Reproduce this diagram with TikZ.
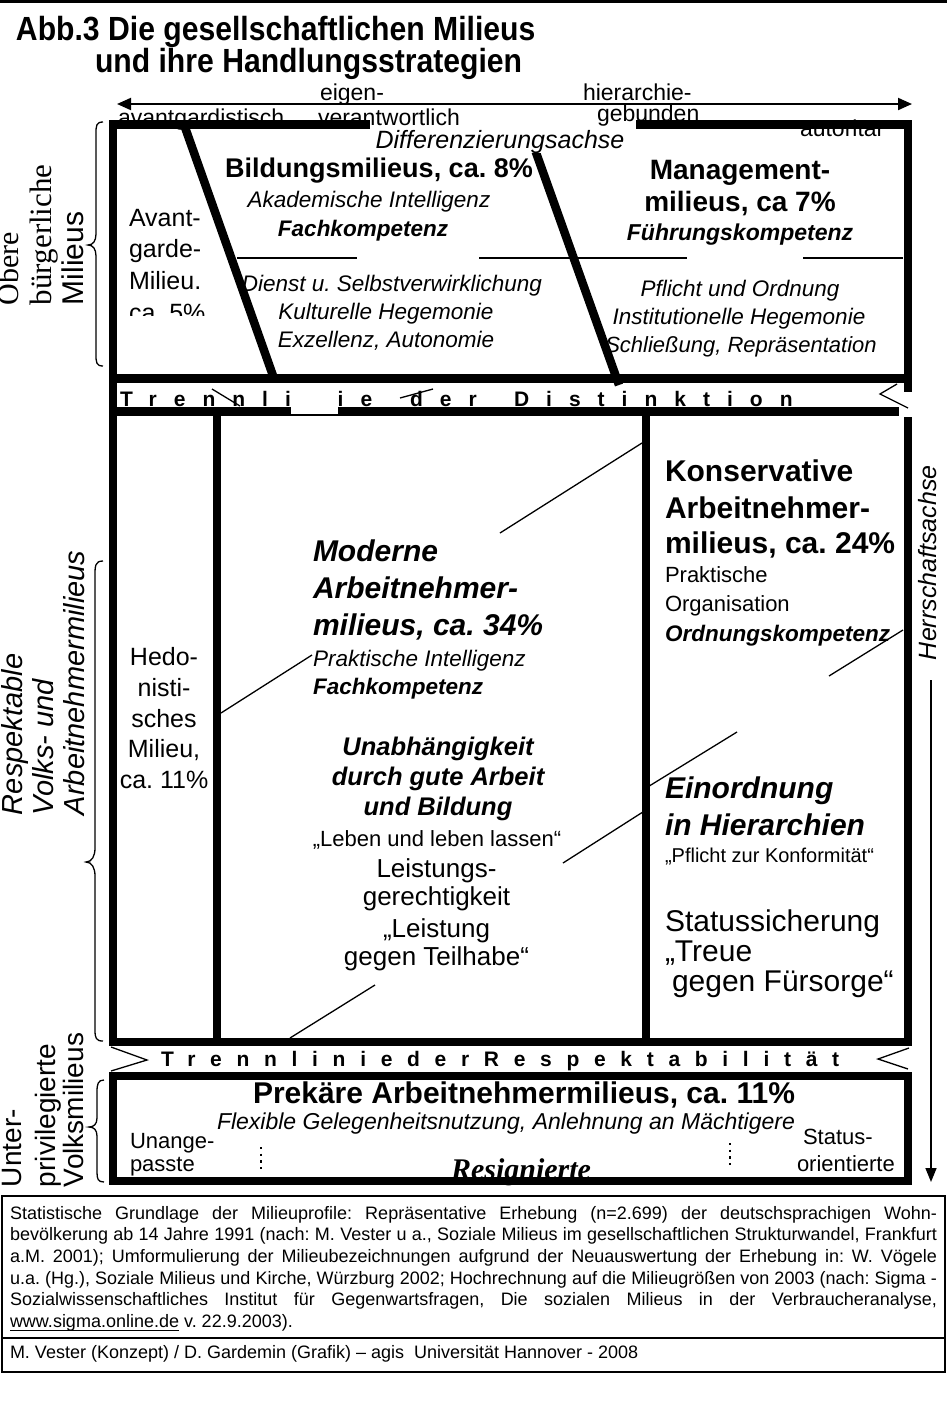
\documentclass[tikz,border=0pt]{standalone}
\usepackage{fontspec}
\setmainfont{Liberation Sans}
\newfontfamily\timesf{Liberation Serif}
\newfontfamily\narrowf[FakeStretch=0.9]{Liberation Sans}
\usetikzlibrary{arrows.meta}
\newcommand\fsz[1]{\fontsize{#1}{#1}\selectfont}
\begin{document}
\frenchspacing
\begin{tikzpicture}[x=1pt,y=-1pt,
  bar/.style={line width=8.5pt, line join=miter},
  thinl/.style={line width=1.3pt},
  brc/.style={line width=1.3pt},
  txc/.style={inner sep=0pt, outer sep=0pt, anchor=base},
  txw/.style={inner sep=0pt, outer sep=0pt, anchor=base west},
  rtw/.style={inner sep=0pt, outer sep=0pt, anchor=base west, rotate=90},
  axl/.style={txw, font=\fsz{23}},
  itx/.style={font=\fsz{22.5}\itshape},
  bix/.style={font=\fsz{22.5}\bfseries\itshape},
  bigb/.style={font=\fsz{30}\bfseries},
  bigbi/.style={font=\fsz{30}\bfseries\itshape},
  arr/.style={-{Triangle[length=14pt,width=11pt]}},
]
\useasboundingbox (0,0) rectangle (947,1417);
\fill[white] (0,0) rectangle (947,1417);

% ---------- header ----------
\draw[line width=3pt] (0,1.5) -- (947,1.5);
\node[txw, font=\fsz{33.5}\narrowf\bfseries] (t1) at (16,40) {Abb.3 Die gesellschaftlichen Milieus};
\node[txw, font=\fsz{33.5}\narrowf\bfseries] (t2) at (95,72) {und ihre Handlungsstrategien};

\coordinate (axL) at (117,104);
\coordinate (axR) at (912,104);
\draw[line width=2pt, {Triangle[length=14pt,width=12pt]}-{Triangle[length=14pt,width=12pt]}] (axL) -- (axR);

% ---------- texts of upper box ----------
\begin{scope}
\clip (120,130) rectangle (215,315);
\node[txw, font=\fsz{25}] (av1) at (129,226) {Avant-};
\node[txw, font=\fsz{25}] (av2) at (129,257.5) {garde-};
\node[txw, font=\fsz{25}] (av3) at (129,289.5) {Milieu.};
\node[txw, font=\fsz{25}] (av4) at (129,321) {ca. 5\%};
\end{scope}
\node[txc, font=\fsz{27}\bfseries] (bm1) at (379,177.5) {Bildungsmilieus, ca. 8\%};
\node[txc, itx] (bm2) at (369,207) {Akademische Intelligenz};
\node[txc, bix] (bm3) at (363,236) {Fachkompetenz};
\node[txc, itx] (bm4) at (392,291) {Dienst u. Selbstverwirklichung};
\node[txc, itx] (bm5) at (386,319) {Kulturelle Hegemonie};
\node[txc, itx] (bm6) at (386,347) {Exzellenz, Autonomie};
\node[txc, font=\fsz{28}\bfseries] (mm1) at (740,179.5) {Management-};
\node[txc, font=\fsz{28}\bfseries] (mm2) at (740,211) {milieus, ca 7\%};
\node[txc, font=\fsz{23}\bfseries\itshape] (mm3) at (740,240.5) {Führungskompetenz};
\node[txc, itx] (mm4) at (740,296) {Pflicht und Ordnung};
\node[txc, itx] (mm5) at (739,324) {Institutionelle Hegemonie};
\node[txc, font=\fsz{22}\itshape] (mm6) at (741,352) {Schließung, Repräsentation};

% thin lines in upper box
\draw[thinl] (237,258) -- (357,258);
\draw[thinl] (479,258) -- (687,258);
\draw[thinl] (803,258) -- (903,258);

% ---------- texts of middle box ----------
\node[txc, font=\fsz{25}] (he1) at (164,665) {Hedo-};
\node[txc, font=\fsz{25}] (he2) at (164,696) {nisti-};
\node[txc, font=\fsz{25}] (he3) at (164,727) {sches};
\node[txc, font=\fsz{25}] (he4) at (164,757) {Milieu,};
\node[txc, font=\fsz{25}] (he5) at (164,788) {ca. 11\%};

\node[txw, bigbi] (mo1) at (313,561.5) {Moderne};
\node[txw, bigbi] (mo2) at (313,598) {Arbeitnehmer-};
\node[txw, bigbi] (mo3) at (313,635) {milieus, ca. 34\%};
\node[txw, itx] (mo4) at (313,666) {Praktische Intelligenz};
\node[txw, bix] (mo5) at (313,694) {Fachkompetenz};

\node[txc, font=\fsz{25.5}\bfseries\itshape] (un1) at (438,755) {Unabhängigkeit};
\node[txc, font=\fsz{25.5}\bfseries\itshape] (un2) at (438,785) {durch gute Arbeit};
\node[txc, font=\fsz{25.5}\bfseries\itshape] (un3) at (438,815) {und Bildung};
\node[txc, font=\fsz{22}] (un4) at (437,846) {„Leben und leben lassen“};
\node[txc, font=\fsz{26}] (le1) at (436.5,877) {Leistungs-};
\node[txc, font=\fsz{26}] (le2) at (436.5,905.5) {gerechtigkeit};
\node[txc, font=\fsz{26}] (le3) at (436.5,937) {„Leistung};
\node[txc, font=\fsz{26}] (le4) at (436.5,965.5) {gegen Teilhabe“};

\node[txw, bigb] (ko1) at (665,481.5) {Konservative};
\node[txw, bigb] (ko2) at (665,518) {Arbeitnehmer-};
\node[txw, bigb] (ko3) at (665,553) {milieus, ca. 24\%};
\node[txw, font=\fsz{22}] (ko4) at (665,582.5) {Praktische};
\node[txw, font=\fsz{22}] (ko5) at (665,611) {Organisation};
\node[txw, bix] (ko6) at (665,641) {Ordnungskompetenz};

\node[txw, bigbi] (ei1) at (665,798) {Einordnung};
\node[txw, bigbi] (ei2) at (665,835) {in Hierarchien};
\node[txw, font=\fsz{20}] (ei3) at (665,862.5) {„Pflicht zur Konformität“};
\node[txw, font=\fsz{30}] (st1) at (665,931.5) {Statussicherung};
\node[txw, font=\fsz{30}] (st2) at (665,961.5) {„Treue};
\node[txw, font=\fsz{30}] (st3) at (672,991.5) {gegen Fürsorge“};

% diagonal thin lines
\draw[thinl] (221,713) -- (312,655);
\draw[thinl] (500,533) -- (642,443);
\draw[thinl] (290,1038) -- (375,985);
\draw[thinl] (563,863) -- (646,810);
\draw[thinl] (646,788) -- (737,732);
\draw[thinl] (829,676) -- (903,630);

% ---------- texts of lower box ----------
\node[txc, font=\fsz{30}\bfseries] (pr1) at (524,1103) {Prekäre Arbeitnehmermilieus, ca. 11\%};
\node[txc, font=\fsz{23}\itshape] (pr2) at (506,1129) {Flexible Gelegenheitsnutzung, Anlehnung an Mächtigere};
\node[txw, font=\fsz{22}] (pr3) at (130,1148) {Unange-};
\node[txw, font=\fsz{22}] (pr4) at (130,1171) {passte};
\node[txw, font=\fsz{22}] (pr5) at (803,1144) {Status-};
\node[txw, font=\fsz{22}] (pr6) at (797,1171) {orientierte};
\node[txc, font=\fsz{30}\timesf\bfseries\itshape] (pr7) at (521,1179) {Resignierte};
\draw[line width=2.2pt, dash pattern=on 2.2pt off 4.5pt] (261,1147) -- (261,1170);
\draw[line width=2.2pt, dash pattern=on 2.2pt off 4.5pt] (730,1143) -- (730,1166);

% ---------- thick frames ----------
\draw[bar] (908,417) -- (908,1042) -- (113,1042) -- (113,124.5) -- (908,124.5) -- (908,392);
\draw[bar] (113,378.5) -- (908,378.5);
\draw[bar] (113,411.5) -- (899,411.5);
\draw[bar] (217,411.5) -- (217,1042);
\draw[bar] (646,411.5) -- (646,1042);
\draw[bar] (113,1076) rectangle (908,1181);
\draw[bar] (184,124.5) -- (274,378.5);
\draw[bar] (526,124.5) -- (619,385);

% label on the top edge
\fill[white] (370,119) rectangle (636,153);
\node[txc, font=\fsz{25}\itshape] (dif) at (500,148) {Differenzierungsachse};

% axis labels
\node[axl] (a1) at (118,125) {avantgardistisch};
\node[axl] (a2) at (320,100) {eigen-};
\node[axl] (a3) at (318,125) {verantwortlich};
\node[axl] (a4) at (583,100) {hierarchie-};
\node[axl] (a5) at (597,121) {gebunden};
\node[axl] (a6) at (800,136) {autoritär};

% ---------- separating rows ----------
\node[txw, font=\fsz{21}\bfseries\addfontfeatures{LetterSpace=81}] (tr1) at (120,406) {Trennlinie};
\node[txw, font=\fsz{21}\bfseries\addfontfeatures{LetterSpace=81}] (tr2) at (410,406) {der};
\node[txw, font=\fsz{21}\bfseries\addfontfeatures{LetterSpace=81}] (tr3) at (514,406) {Distinktion};
\fill[white] (291,388) rectangle (338,414);
\draw[thinl] (212,389) -- (240,406);
\draw[thinl] (400,398) -- (433,389);
\draw[thinl] (897,384) -- (880,394) -- (908,408);

\node[txw, font=\fsz{21}\bfseries\addfontfeatures{LetterSpace=70}] (rs) at (161,1066) {TrennliniederRespektabilität};
\draw[thinl] (111,1047) -- (147,1060) -- (111,1071);
\draw[thinl] (909,1048) -- (878,1059) -- (908,1069);

% ---------- left labels and braces ----------
\node[rtw, font=\fsz{30}\timesf] (ob1) at (18,305) {Obere};
\node[rtw, font=\fsz{31}\timesf] (ob2) at (51,305) {bürgerliche};
\node[rtw, font=\fsz{30}] (ob3) at (83,305) {Milieus};
\draw[brc] (103,122) .. controls (96,122) and (96,126) .. (96,134) -- (96,234) .. controls (96,241) and (93,245) .. (88,245) .. controls (93,245) and (96,249) .. (96,256) -- (96,354) .. controls (96,362) and (96,366) .. (103,366);

\node[rtw, font=\fsz{29}\itshape] (re1) at (22,815) {Respektable};
\node[rtw, font=\fsz{29}\itshape] (re2) at (53,815) {Volks- und};
\node[rtw, font=\fsz{29}\itshape] (re3) at (84,815) {Arbeitnehmermilieus};
\draw[brc] (103,561) .. controls (95,561) and (95,566) .. (95,576) -- (95,848) .. controls (95,856) and (92,862) .. (86,862) .. controls (92,862) and (95,868) .. (95,876) -- (95,1030) .. controls (95,1038) and (96,1041) .. (103,1041);

\node[rtw, font=\fsz{28}] (up1) at (21,1187) {Unter-};
\node[rtw, font=\fsz{28}] (up2) at (55,1187) {privilegierte};
\node[rtw, font=\fsz{28}] (up3) at (83,1187) {Volksmilieus};
\draw[brc] (104,1080) .. controls (98,1080) and (97,1084) .. (97,1092) -- (97,1118) .. controls (97,1124) and (94,1127) .. (89,1127) .. controls (94,1127) and (97,1130) .. (97,1136) -- (97,1172) .. controls (97,1179) and (98,1182) .. (104,1182);

% ---------- Herrschaftsachse ----------
\node[rtw, font=\fsz{25}\itshape] (hs) at (936,660) {Herrschaftsachse};
\coordinate (hsA) at (931,680);
\coordinate (hsB) at (931,1182);
\draw[line width=1.5pt, arr] (hsA) -- (hsB);

% ---------- footer ----------
\draw[line width=1.8pt] (2,1196) rectangle (945,1372);
\draw[line width=2.5pt] (2,1338) -- (945,1338);
\node[txw, font=\fsz{18}] (f1) at (10,1219) {\hbox to 927pt{Statistische Grundlage der Milieuprofile: Repräsentative Erhebung (n=2.699) der deutschsprachigen Wohn-}};
\node[txw, font=\fsz{18}] (f2) at (10,1240.7) {\hbox to 927pt{bevölkerung ab 14 Jahre 1991 (nach: M. Vester u a., Soziale Milieus im gesellschaftlichen Strukturwandel, Frankfurt}};
\node[txw, font=\fsz{18}] (f3) at (10,1262.4) {\hbox to 927pt{a.M. 2001); Umformulierung der Milieubezeichnungen aufgrund der Neuauswertung der Erhebung in: W. Vögele}};
\node[txw, font=\fsz{18}] (f4) at (10,1284.1) {\hbox to 927pt{u.a. (Hg.), Soziale Milieus und Kirche, Würzburg 2002; Hochrechnung auf die Milieugrößen von 2003 (nach: Sigma -}};
\node[txw, font=\fsz{18}] (f5) at (10,1305.8) {\hbox to 927pt{Sozialwissenschaftliches Institut für Gegenwartsfragen, Die sozialen Milieus in der Verbraucheranalyse,}};
\node[txw, font=\fsz{18}] (f6a) at (10,1327.5) {www.sigma.online.de};
\draw[line width=1.5pt] ([yshift=-3pt]f6a.base west) -- ([yshift=-3pt]f6a.base east);
\node[txw, font=\fsz{18}] (f6b) at ([xshift=5pt]f6a.base east) {v. 22.9.2003).};
\node[txw, font=\fsz{18}] (f7) at (10,1358) {M. Vester (Konzept) / D. Gardemin (Grafik) -- agis\ \ Universität Hannover - 2008};
\end{tikzpicture}
\end{document}
